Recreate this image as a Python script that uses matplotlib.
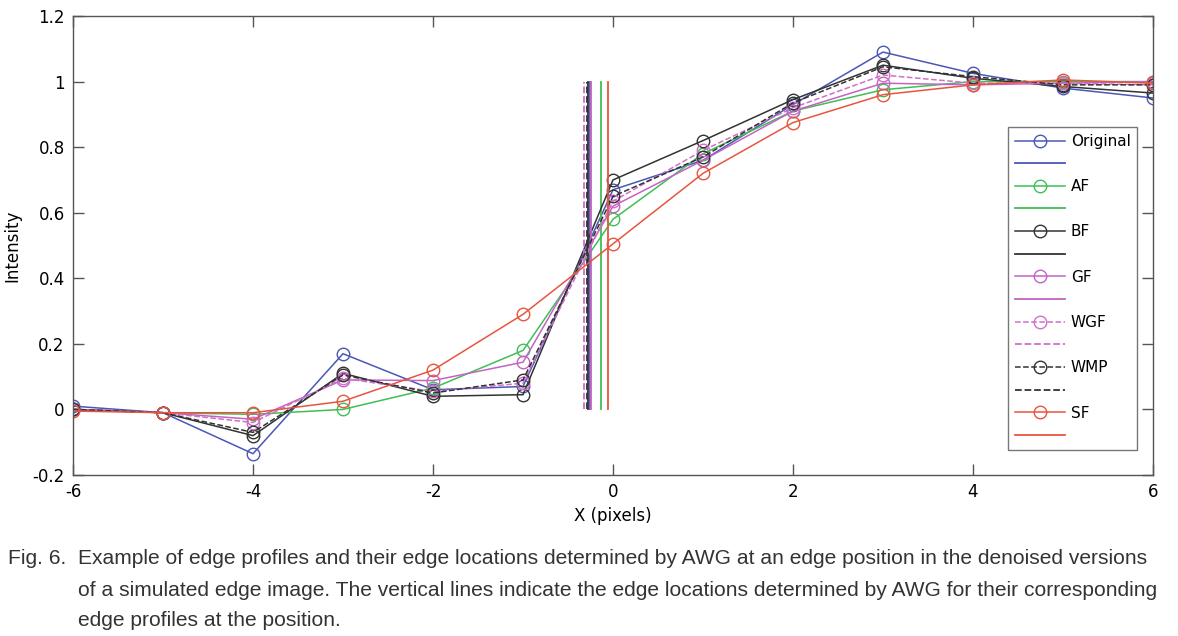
import matplotlib
matplotlib.use("Agg")
import matplotlib.pyplot as plt

x = [-6, -5, -4, -3, -2, -1, 0, 1, 2, 3, 4, 5, 6]
original = [0.01, -0.01, -0.135, 0.17, 0.06, 0.07, 0.67, 0.76, 0.93, 1.09, 1.025, 0.98, 0.95]
af = [0.0, -0.01, -0.015, 0.0, 0.065, 0.18, 0.58, 0.78, 0.91, 0.975, 1.0, 1.0, 1.0]
bf = [0.0, -0.01, -0.08, 0.11, 0.04, 0.045, 0.70, 0.82, 0.945, 1.05, 1.01, 0.985, 0.965]
gf = [0.0, -0.01, -0.03, 0.09, 0.088, 0.144, 0.62, 0.76, 0.91, 0.995, 0.99, 0.995, 1.0]
wgf = [0.0, -0.01, -0.04, 0.095, 0.055, 0.08, 0.635, 0.79, 0.92, 1.02, 0.995, 0.995, 0.99]
wmp = [0.0, -0.01, -0.07, 0.105, 0.05, 0.09, 0.65, 0.77, 0.935, 1.045, 1.015, 0.99, 0.99]
sf = [-0.005, -0.01, -0.01, 0.025, 0.12, 0.29, 0.505, 0.72, 0.875, 0.96, 0.99, 1.005, 0.995]

names = ["Original", "AF", "BF", "GF", "WGF", "WMP", "SF"]
series = [original, af, bf, gf, wgf, wmp, sf]
edge_locs = [-0.26, -0.13, -0.28, -0.24, -0.32, -0.29, -0.06]
colors = ["#4b57b5", "#3fbf55", "#333333", "#c463c4", "#d070c8", "#333333", "#e8553f"]
styles = ["-", "-", "-", "-", "--", "--", "-"]

fig = plt.figure(figsize=(11.78, 6.36), dpi=100)
ax = fig.add_axes([73/1178, 1-475/636, 1080/1178, 459/636])

handles, labels = [], []
for name, y, c, ls, el in zip(names, series, colors, styles, edge_locs):
    h, = ax.plot(x, y, ls, color=c, marker="o", mfc="none", mec=c, ms=9, lw=1.1, mew=1.0)
    v, = ax.plot([el, el], [0, 1], ls, color=c, lw=1.3)
    handles += [h, v]
    labels += [name, " "]

ax.set_xlim(-6, 6)
ax.set_ylim(-0.2, 1.2)
ax.set_xticks([-6, -4, -2, 0, 2, 4, 6])
ax.set_yticks([-0.2, 0, 0.2, 0.4, 0.6, 0.8, 1.0, 1.2])
ax.set_yticklabels(["-0.2", "0", "0.2", "0.4", "0.6", "0.8", "1", "1.2"])
ax.set_xticklabels(["-6", "-4", "-2", "0", "2", "4", "6"])
ax.tick_params(direction="in", length=8, width=1, color="#555555", labelsize=12,
               top=True, right=True, pad=6)
for s in ax.spines.values():
    s.set_color("#555555")
    s.set_linewidth(1)
ax.set_xlabel("X (pixels)", fontsize=12, labelpad=4)
ax.set_ylabel("Intensity", fontsize=12, labelpad=8)

leg = ax.legend(handles, labels, loc="upper left",
                bbox_to_anchor=((1008-73)/1080, (475-127)/459), borderaxespad=0,
                fontsize=11, frameon=True, fancybox=False, edgecolor="#555555",
                handlelength=3.3, labelspacing=0.5, borderpad=0.45, handletextpad=0.35)
leg.get_frame().set_linewidth(1)

cap_font = dict(fontsize=15.1, family=["Liberation Sans", "DejaVu Sans"], color="#333333")
fig.text(8/1178, 1-558/636, "Fig. 6.  Example of edge profiles and their edge locations determined by AWG at an edge position in the denoised versions", va="center", **cap_font)
fig.text(78/1178, 1-590/636, "of a simulated edge image. The vertical lines indicate the edge locations determined by AWG for their corresponding", va="center", **cap_font)
fig.text(78/1178, 1-620/636, "edge profiles at the position.", va="center", **cap_font)

fig.savefig("out.png", dpi=100)
